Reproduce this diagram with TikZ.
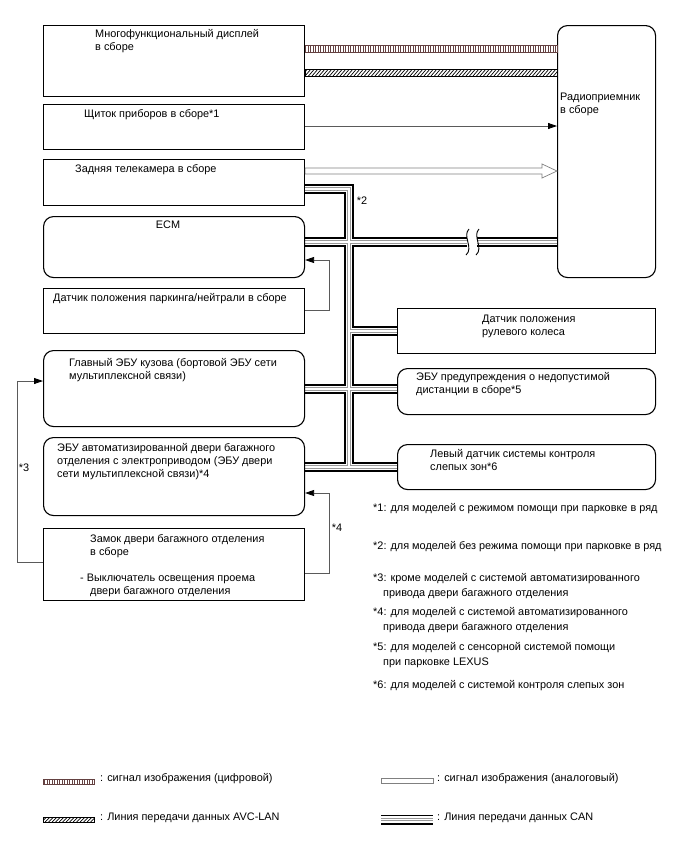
\documentclass[tikz,border=0pt]{standalone}
\usepackage{fontspec}
\setmainfont{Liberation Sans}
\usetikzlibrary{arrows.meta,backgrounds}

\definecolor{vidbrown}{RGB}{100,65,65}
\definecolor{wiregray}{RGB}{90,90,90}

\tikzset{
  unit/.style={draw, line width=1.1pt, anchor=north west, inner sep=0pt, minimum width=261pt},
  ecu/.style={unit, rounded corners=10pt},
  lbl/.style={anchor=base west, inner sep=0pt, font=\fontsize{10.9}{13}\selectfont},
  note/.style={anchor=center, inner sep=0pt, font=\fontsize{10.9}{13}\selectfont},
  sig/.style={wiregray, line width=0.8pt, -{Triangle[length=9pt,width=6pt,color=black]}},
}

% CAN bus route (drawn in layers)
\newcommand\canroute{
  (cam.east |- jtop) -- (jtop) -- (jbot)
  (ecm.east |- 0,242) -- (467,242)
  (477,242) -- (radio.west |- 0,242)
  (349,331) -- (steer.west |- 0,331)
  (body.east |- 0,389) -- (sonar.west |- 0,389)
  (bdoor.east |- jbot) -- (bsm.west |- jbot)
}

\begin{document}
\begin{tikzpicture}[x=1pt,y=-1pt]
\useasboundingbox (0,0) rectangle (688,852);

% left column
\node[unit, minimum height=71pt] (disp) at (43,25) {};
\node[unit, minimum height=45pt] (meter) at (43,104) {};
\node[unit, minimum height=46pt] (cam) at (43,159) {};
\node[ecu, minimum height=61pt] (ecm) at (43,216) {};
\node[unit, minimum height=45pt] (pns) at (43,288) {};
\node[ecu, minimum height=76pt] (body) at (43,350) {};
\node[ecu, minimum height=78pt] (bdoor) at (43,437) {};
\node[unit, minimum height=72pt] (lock) at (43,528) {};

% right column
\node[ecu, minimum width=98pt, minimum height=252pt] (radio) at (557,25) {};
\node[unit, minimum width=258pt, minimum height=45pt] (steer) at (397,308) {};
\node[ecu, minimum width=258pt, minimum height=46pt] (sonar) at (397,368) {};
\node[ecu, minimum width=258pt, minimum height=45pt] (bsm) at (397,444) {};

% box texts
\node[lbl] (dispA) at (95,37) {Многофункциональный дисплей};
\node[lbl] (dispB) at (95,50) {в сборе};
\node[lbl] (meterA) at (84,117) {Щиток приборов в сборе*1};
\node[lbl] (camA) at (75,172) {Задняя телекамера в сборе};
\node[note] (ecmA) at (168,225) {ECM};
\node[lbl] (pnsA) at (53,301) {Датчик положения паркинга/нейтрали в сборе};
\node[lbl] (bodyA) at (69,366) {Главный ЭБУ кузова (бортовой ЭБУ сети};
\node[lbl] (bodyB) at (69,379) {мультиплексной связи)};
\node[lbl] (bdoorA) at (57,451) {ЭБУ автоматизированной двери багажного};
\node[lbl] (bdoorB) at (57,464) {отделения с электроприводом (ЭБУ двери};
\node[lbl] (bdoorC) at (57,477) {сети мультиплексной связи)*4};
\node[lbl] (lockA) at (90,542) {Замок двери багажного отделения};
\node[lbl] (lockB) at (90,555) {в сборе};
\node[lbl] (lockC) at (80,581) {- Выключатель освещения проема};
\node[lbl] (lockD) at (90,594) {двери багажного отделения};
\node[lbl] (radioA) at (560,100) {Радиоприемник};
\node[lbl] (radioB) at (560,113) {в сборе};
\node[lbl] (steerA) at (482,322) {Датчик положения};
\node[lbl] (steerB) at (482,335) {рулевого колеса};
\node[lbl] (sonarA) at (416,380) {ЭБУ предупреждения о недопустимой};
\node[lbl] (sonarB) at (416,393) {дистанции в сборе*5};
\node[lbl] (bsmA) at (430,457) {Левый датчик системы контроля};
\node[lbl] (bsmB) at (430,470) {слепых зон*6};

% CAN bus
\coordinate (jtop) at (349,189);
\coordinate (jbot) at (349,467);
\begin{scope}[on background layer]
  \foreach \w/\c in {10/black,6.6/white,3.6/gray!80,1.6/white}
    \draw[line width=\w pt, draw=\c] \canroute;
\end{scope}
\draw[line width=0.9pt] (469,229) .. controls (462,236) and (474,248) .. (466,255);
\draw[line width=0.9pt] (479,229) .. controls (472,236) and (484,248) .. (476,255);
\node[note] (n2) at (362,201) {*2};

% digital video line
\draw[vidbrown, line width=0.6pt] (disp.east |- 0,45) rectangle (radio.west |- 0,52);
\foreach \x in {305.5,308,...,556}
  \draw[vidbrown, line width=0.8pt] (\x,45) -- (\x,52);

% AVC-LAN line
\begin{scope}
  \clip (disp.east |- 0,69) rectangle (radio.west |- 0,76);
  \foreach \x in {298,301.5,...,560}
    \draw[line width=0.7pt] (\x,76) -- (\x+6,69);
\end{scope}
\draw[line width=0.6pt] (disp.east |- 0,69) rectangle (radio.west |- 0,76);

% meter -> radio
\draw[sig] (meter.east |- 0,126) -- (radio.west |- 0,126);

% analog video (camera -> radio)
\draw[gray, line width=0.7pt, fill=white] (cam.east |- 0,168) -- (542,168) -- (542,164)
  -- (radio.west |- 0,171) -- (542,178) -- (542,174) -- (cam.east |- 0,174) -- cycle;

% parking/neutral -> ECM
\draw[sig] (pns.east |- 0,310) -| (329,260) -- (ecm.east |- 0,260);

% lock -> body ECU (*3), lock -> door ECU (*4)
\draw[sig] (lock.west |- 0,562) -| (17,381) -- (body.west |- 0,381);
\node[note] (n3) at (24,468) {*3};
\draw[sig] (lock.east |- 0,573) -| (329,493) -- (bdoor.east |- 0,493);
\node[note] (n4) at (337,528) {*4};

% footnotes
\node[lbl] (f1) at (373,511) {*1: для моделей с режимом помощи при парковке в ряд};
\node[lbl] (f2) at (373,549) {*2: для моделей без режима помощи при парковке в ряд};
\node[lbl] (f3a) at (373,581) {*3: кроме моделей с системой автоматизированного};
\node[lbl] (f3b) at (383,596) {привода двери багажного отделения};
\node[lbl] (f4a) at (373,615) {*4: для моделей с системой автоматизированного};
\node[lbl] (f4b) at (383,630) {привода двери багажного отделения};
\node[lbl] (f5a) at (373,650) {*5: для моделей с сенсорной системой помощи};
\node[lbl] (f5b) at (383,665) {при парковке LEXUS};
\node[lbl] (f6) at (373,688) {*6: для моделей с системой контроля слепых зон};

% legend
\draw[vidbrown, line width=0.6pt] (43,779) rectangle (94,784);
\foreach \x in {44.5,47,...,93}
  \draw[vidbrown, line width=0.8pt] (\x,779) -- (\x,784);
\node[lbl] (lgdig) at (100,781) {: сигнал изображения (цифровой)};
\begin{scope}
  \clip (43,817) rectangle (94,822);
  \foreach \x in {38,41.5,...,96}
    \draw[line width=0.7pt] (\x,822) -- (\x+5,817);
\end{scope}
\draw[line width=0.6pt] (43,817) rectangle (94,822);
\node[lbl] (lgavc) at (100,820) {: Линия передачи данных AVC-LAN};
\draw[gray, line width=0.7pt, fill=white] (381,778) rectangle (433,783);
\node[lbl] (lgana) at (437,781) {: сигнал изображения (аналоговый)};
\foreach \w/\c in {10/black,6.6/white,3.6/gray!80,1.6/white}
  \draw[line width=\w pt, draw=\c] (381,819.5) -- (433,819.5);
\node[lbl] (lgcan) at (437,820) {: Линия передачи данных CAN};

\end{tikzpicture}
\end{document}
